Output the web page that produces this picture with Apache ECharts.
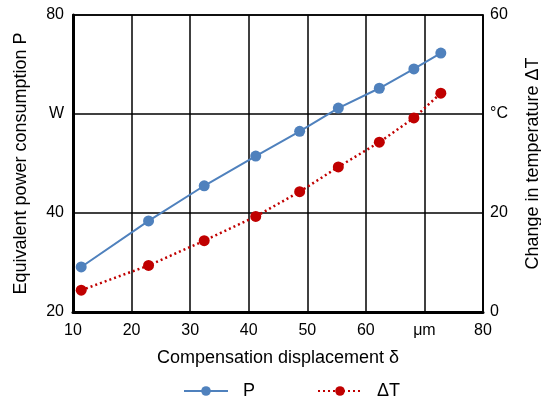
<!DOCTYPE html>
<html>
<head>
<meta charset="utf-8">
<script src="https://cdn.jsdelivr.net/npm/echarts@6/dist/echarts.min.js"></script>
<style>
  html, body { margin: 0; padding: 0; background: #fff; }
  #chart { width: 541px; height: 401px; }
</style>
</head>
<body>
<div id="chart"></div>
<script>
// Compensation displacement (um)
const displacement = [11.4, 22.9, 32.4, 41.2, 48.7, 55.3, 62.3, 68.2, 72.8];
// Equivalent power consumption P (W)
const powerP = [29.1, 38.4, 45.5, 51.5, 56.5, 61.2, 65.2, 69.1, 72.3];
// Change in temperature dT (C)
const deltaT = [4.4, 9.4, 14.4, 19.3, 24.3, 29.3, 34.3, 39.2, 44.2];

// Some tick labels are replaced by units
const xUnitTicks = { 70: 'μm' };
const leftUnitTicks = { 60: 'W' };
const rightUnitTicks = { 40: '°C' };

const font = 'Liberation Sans, Arial, sans-serif';

const chart = echarts.init(document.getElementById('chart'));

chart.setOption({
  animation: false,
  grid: {
    left: 73, right: 58, top: 15, bottom: 89,
    outerBoundsMode: 'none',
    containLabel: false,
    show: true, borderColor: '#000', borderWidth: 1.5
  },
  legend: {
    top: 377,
    left: 178,
    itemWidth: 44,
    itemHeight: 12,
    itemGap: 62,
    textStyle: { fontFamily: font, fontSize: 18, color: '#000', padding: [0, 0, 0, 10] },
    data: ['P', 'ΔT']
  },
  xAxis: {
    type: 'value',
    min: 10, max: 80, interval: 10,
    name: 'Compensation displacement δ',
    nameLocation: 'middle',
    nameGap: 37,
    nameTextStyle: { fontFamily: font, fontSize: 18, color: '#000' },
    axisLine: { lineStyle: { color: '#000', width: 3 } },
    axisTick: { show: false },
    axisLabel: {
      fontFamily: font, fontSize: 16, color: '#000', margin: 11,
      formatter: v => xUnitTicks[v] || String(v)
    },
    splitLine: { lineStyle: { color: '#000', width: 1.5 } }
  },
  yAxis: [
    {
      type: 'value',
      min: 20, max: 80, interval: 20,
      name: 'Equivalent power consumption P',
      nameLocation: 'middle',
      nameGap: 43,
      nameTextStyle: { fontFamily: font, fontSize: 18, color: '#000' },
      axisLine: { show: true, lineStyle: { color: '#000', width: 3 } },
      axisTick: { show: false },
      axisLabel: {
        fontFamily: font, fontSize: 16, color: '#000', margin: 9,
        formatter: v => leftUnitTicks[v] || String(v)
      },
      splitLine: { lineStyle: { color: '#000', width: 1.5 } }
    },
    {
      type: 'value',
      min: 0, max: 60, interval: 20,
      name: 'Change in temperature ΔT',
      nameLocation: 'middle',
      nameGap: 41,
      nameTextStyle: { fontFamily: font, fontSize: 18, color: '#000' },
      axisLine: { show: true, lineStyle: { color: '#000', width: 1.5 } },
      axisTick: { show: false },
      axisLabel: {
        fontFamily: font, fontSize: 16, color: '#000', margin: 7,
        formatter: v => rightUnitTicks[v] || String(v)
      },
      splitLine: { show: false }
    }
  ],
  series: [
    {
      name: 'P',
      type: 'line',
      yAxisIndex: 0,
      data: displacement.map((x, i) => [x, powerP[i]]),
      symbol: 'circle',
      symbolSize: 11,
      itemStyle: { color: '#4f81bd' },
      lineStyle: { color: '#4f81bd', width: 2 }
    },
    {
      name: 'ΔT',
      type: 'line',
      yAxisIndex: 1,
      data: displacement.map((x, i) => [x, deltaT[i]]),
      symbol: 'circle',
      symbolSize: 11,
      itemStyle: { color: '#c00000' },
      lineStyle: { color: '#c00000', width: 2.5, type: [2, 3] }
    }
  ]
});
</script>
</body>
</html>
